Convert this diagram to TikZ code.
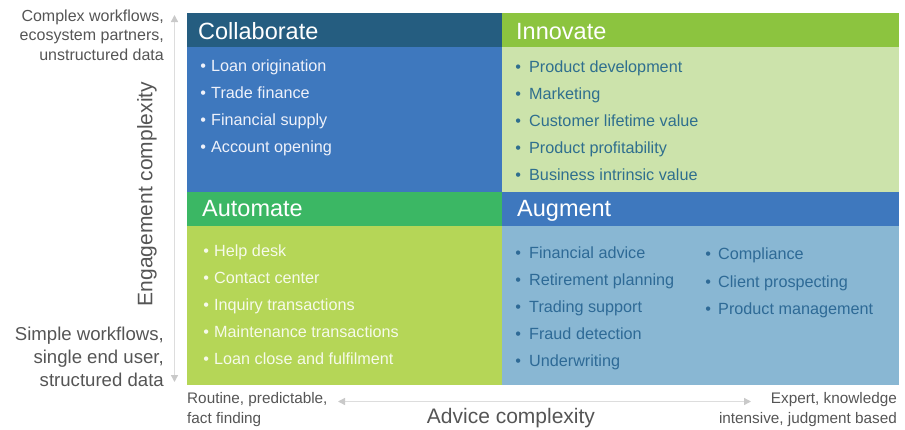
\documentclass[tikz,border=0pt]{standalone}
\usepackage{fontspec}
\setmainfont{Liberation Sans}
\usetikzlibrary{arrows.meta}

\definecolor{collabHead}{HTML}{255D80}
\definecolor{collabBody}{HTML}{3E78BE}
\definecolor{innovHead}{HTML}{8CC43F}
\definecolor{innovBody}{HTML}{CCE3AB}
\definecolor{autoHead}{HTML}{3BB764}
\definecolor{autoBody}{HTML}{B5D657}
\definecolor{augHead}{HTML}{3E78BE}
\definecolor{augBody}{HTML}{89B7D3}
\definecolor{collabText}{HTML}{EEF1FA}
\definecolor{innovText}{HTML}{2F6F8E}
\definecolor{autoText}{HTML}{F6FAEA}
\definecolor{augText}{HTML}{2E6A96}
\definecolor{axisText}{HTML}{555555}
\definecolor{axisLine}{HTML}{DDDDDD}
\definecolor{axisTip}{HTML}{C9C9C9}

% bullet centred on the anchor point, text after a fixed gap
\newcommand{\bulletitem}[2]{\makebox[0pt]{•}\hspace{#1}#2}

\tikzset{
  panel/.style={rectangle, draw=none, inner sep=0pt, outer sep=0pt, anchor=north west},
  headtext/.style={anchor=base west, inner sep=0pt, text=white, font=\fontsize{23.5}{26}\selectfont},
  item/.style={anchor=base west, inner sep=0pt, font=\fontsize{16.2}{18}\selectfont},
  axisnote/.style={inner sep=0pt, text=axisText, align=right},
  axisarrow/.style={draw=axisLine, line width=1.3pt, -{Triangle[length=7pt,width=7pt,color=axisTip]}},
}

\begin{document}
\begin{tikzpicture}[x=1pt, y=-1pt]
\useasboundingbox (0,0) rectangle (905,429);

% quadrant panels
\node[panel, fill=collabHead, minimum width=315pt, minimum height=34pt] (cH) at (187,13) {};
\node[panel, fill=collabBody, minimum width=315pt, minimum height=145pt] (cB) at (187,47) {};
\node[panel, fill=innovHead, minimum width=397pt, minimum height=34pt] (iH) at (502,13) {};
\node[panel, fill=innovBody, minimum width=397pt, minimum height=145pt] (iB) at (502,47) {};
\node[panel, fill=autoHead, minimum width=315pt, minimum height=34pt] (aH) at (187,192) {};
\node[panel, fill=autoBody, minimum width=315pt, minimum height=159pt] (aB) at (187,226) {};
\node[panel, fill=augHead, minimum width=397pt, minimum height=34pt] (gH) at (502,192) {};
\node[panel, fill=augBody, minimum width=397pt, minimum height=159pt] (gB) at (502,226) {};

% headings
\node[headtext] (cT) at (198,39) {Collaborate};
\node[headtext] (iT) at (516,39) {Innovate};
\node[headtext] (aT) at (202,216) {Automate};
\node[headtext] (gT) at (517,216) {Augment};

% Collaborate items
\begin{scope}[every node/.style={item, text=collabText}]
\node (c1) at (203,71) {\bulletitem{8pt}{Loan origination}};
\node (c2) at (203,98) {\bulletitem{8pt}{Trade finance}};
\node (c3) at (203,125) {\bulletitem{8pt}{Financial supply}};
\node (c4) at (203,152) {\bulletitem{8pt}{Account opening}};
\end{scope}

% Innovate items
\begin{scope}[every node/.style={item, text=innovText}]
\node (i1) at (518,72.5) {\bulletitem{11pt}{Product development}};
\node (i2) at (518,99.5) {\bulletitem{11pt}{Marketing}};
\node (i3) at (518,126.5) {\bulletitem{11pt}{Customer lifetime value}};
\node (i4) at (518,153.5) {\bulletitem{11pt}{Product profitability}};
\node (i5) at (518,180.5) {\bulletitem{11pt}{Business intrinsic value}};
\end{scope}

% Automate items
\begin{scope}[every node/.style={item, text=autoText}]
\node (a1) at (206,256) {\bulletitem{8pt}{Help desk}};
\node (a2) at (206,283) {\bulletitem{8pt}{Contact center}};
\node (a3) at (206,310) {\bulletitem{8pt}{Inquiry transactions}};
\node (a4) at (206,337) {\bulletitem{8pt}{Maintenance transactions}};
\node (a5) at (206,364) {\bulletitem{8pt}{Loan close and fulfilment}};
\end{scope}

% Augment items, two columns
\begin{scope}[every node/.style={item, text=augText}]
\node (g1) at (518,258) {\bulletitem{11pt}{Financial advice}};
\node (g2) at (518,285) {\bulletitem{11pt}{Retirement planning}};
\node (g3) at (518,312) {\bulletitem{11pt}{Trading support}};
\node (g4) at (518,339) {\bulletitem{11pt}{Fraud detection}};
\node (g5) at (518,366) {\bulletitem{11pt}{Underwriting}};
\node (g6) at (708,259) {\bulletitem{10pt}{Compliance}};
\node (g7) at (708,287) {\bulletitem{10pt}{Client prospecting}};
\node (g8) at (708,314) {\bulletitem{10pt}{Product management}};
\end{scope}

% vertical axis
\coordinate (vTop) at (174.5,15);
\coordinate (vBot) at (174.5,382);
\coordinate (vMid) at (174.5,198);
\draw[axisarrow] (vMid) -- (vTop);
\draw[axisarrow] (vMid) -- (vBot);

\node[axisnote, anchor=north east, font=\fontsize{16}{19.5}\selectfont] (vHigh) at (164,9.5)
  {Complex workflows,\\ecosystem partners,\\unstructured data};
\node[axisnote, anchor=south east, font=\fontsize{18.6}{23}\selectfont] (vLow) at (164,387)
  {Simple workflows,\\single end user,\\structured data};
\node[inner sep=0pt, text=axisText, rotate=90, font=\fontsize{21}{24}\selectfont] (vLab) at (147,194)
  {Engagement complexity};

% horizontal axis
\coordinate (hLeft) at (338,401.5);
\coordinate (hRight) at (751,401.5);
\coordinate (hMid) at (545,401.5);
\draw[axisarrow] (hMid) -- (hLeft);
\draw[axisarrow] (hMid) -- (hRight);

\node[inner sep=0pt, text=axisText, align=left, anchor=base west, font=\fontsize{15.3}{20}\selectfont] (hLow) at (187,423)
  {Routine, predictable,\\fact finding};
\node[inner sep=0pt, text=axisText, align=right, anchor=base east, font=\fontsize{15.3}{20}\selectfont] (hHigh) at (897,423)
  {Expert, knowledge\\intensive, judgment based};
\node[inner sep=0pt, text=axisText, anchor=base, font=\fontsize{21}{24}\selectfont] (hLab) at (511,423)
  {Advice complexity};

\end{tikzpicture}
\end{document}
